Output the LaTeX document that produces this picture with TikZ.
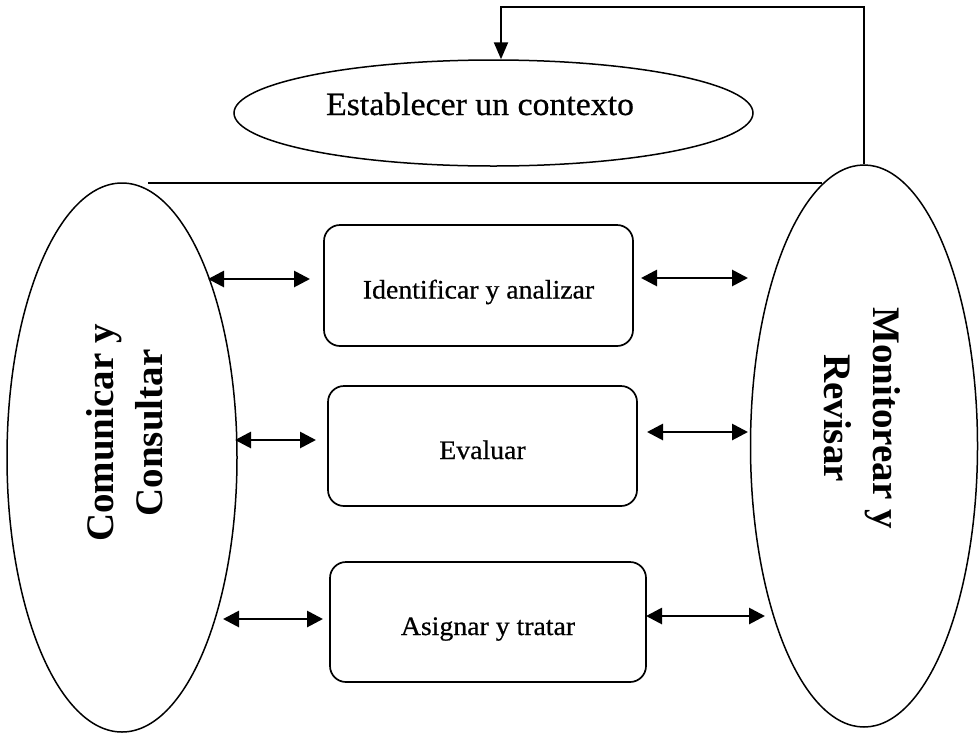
\documentclass[tikz,border=0pt]{standalone}
\usepackage{fontspec}
\setmainfont{Liberation Serif}
\newfontfamily\boxfont[FakeStretch=1.04,FakeBold=0.6]{Liberation Serif}
\newfontfamily\rotfont{Liberation Serif}
\usetikzlibrary{arrows.meta,shapes.geometric}
\begin{document}
\begin{tikzpicture}[x=1pt,y=-1pt,
  ell/.style={ellipse, draw, line width=1.5pt, inner sep=0pt},
  stage/.style={draw, rounded corners=16pt, line width=1.7pt, inner sep=0pt,
    font=\boxfont\fontsize{26.7}{30}\selectfont, text height=26pt, text depth=0pt},
  side/.style={font=\rotfont\bfseries\fontsize{39}{49}\selectfont, align=center, inner sep=0pt},
  dbl/.style={{Triangle[length=16pt,width=16pt]}-{Triangle[length=16pt,width=16pt]}, line width=2.8pt},
  fbk/.style={line width=2.2pt, -{Triangle[length=17pt,width=14pt]}},
  plain/.style={line width=2pt}
]
\useasboundingbox (0,0) rectangle (979,734);

% ellipses
\node[ell, minimum width=519pt, minimum height=106pt] (E) at (493.5,113) {};
\node[font=\boxfont\fontsize{32.5}{36}\selectfont, inner sep=0pt, anchor=base]
      (Et) at (480,115) {Establecer un contexto};
\node[ell, minimum width=230pt, minimum height=549pt] (L) at (122,457.5) {};
\node[ell, minimum width=227pt, minimum height=562pt] (R) at (864,446) {};

% side texts
\node[side, rotate=90] (Lt) at (125,433) {Comunicar y\\Consultar};
\node[side, rotate=-90] (Rt) at (862,418) {Monitorear y\\Revisar};

% boxes
\node[stage, minimum width=309pt, minimum height=121pt] (B1) at (478.5,285.5) {Identificar y analizar};
\node[stage, minimum width=309pt, minimum height=120pt] (B2) at (482.5,446) {Evaluar};
\node[stage, minimum width=316pt, minimum height=120pt] (B3) at (488,622) {Asignar y tratar};

% arrow end points
\coordinate (a1) at (208,279); \coordinate (b1) at (310,279);
\coordinate (c1) at (641,278); \coordinate (d1) at (748,278);
\coordinate (a2) at (235,440); \coordinate (b2) at (316,440);
\coordinate (c2) at (647,432); \coordinate (d2) at (748,432);
\coordinate (a3) at (223,619); \coordinate (b3) at (323,619);
\coordinate (c3) at (646,616); \coordinate (d3) at (765,616);

\draw[dbl] (a1) -- (b1);
\draw[dbl] (c1) -- (d1);
\draw[dbl] (a2) -- (b2);
\draw[dbl] (c2) -- (d2);
\draw[dbl] (a3) -- (b3);
\draw[dbl] (c3) -- (d3);

% horizontal line
\coordinate (h1) at (148,183); \coordinate (h2) at (822,183);
\draw[plain] (h1) -- (h2);

% feedback loop
\coordinate (fb) at (501,7);
\draw[fbk] (R.north) |- (fb) -- (E.north -| fb);
\end{tikzpicture}
\end{document}
